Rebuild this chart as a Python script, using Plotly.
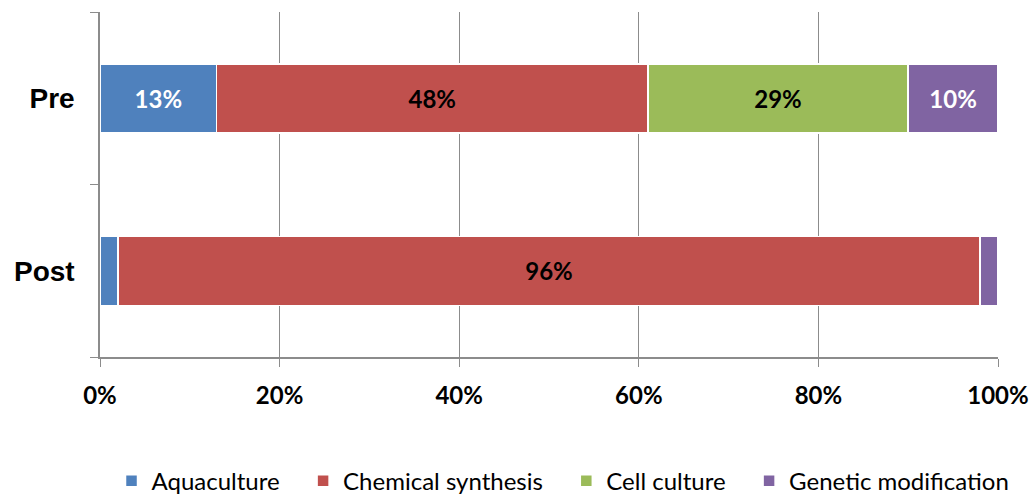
import plotly.graph_objects as go

categories = ["Pre", "Post"]
series_names = ["Aquaculture", "Chemical synthesis", "Cell culture", "Genetic modification"]
values = {
    "Aquaculture": [13, 2],
    "Chemical synthesis": [48, 96],
    "Cell culture": [29, 0],
    "Genetic modification": [10, 2],
}
labels = {
    "Aquaculture": ["13%", ""],
    "Chemical synthesis": ["48%", "96%"],
    "Cell culture": ["29%", ""],
    "Genetic modification": ["10%", ""],
}
colors = {
    "Aquaculture": "#4F81BD",
    "Chemical synthesis": "#C0504D",
    "Cell culture": "#9BBB59",
    "Genetic modification": "#8064A2",
}
label_colors = {
    "Aquaculture": "white",
    "Chemical synthesis": "black",
    "Cell culture": "black",
    "Genetic modification": "white",
}
tick_vals = [0, 20, 40, 60, 80, 100]
tick_text = ["0%", "20%", "40%", "60%", "80%", "100%"]

# non-breaking padding widens the gap between legend entries
PAD = "\u00a0" * 3

fig = go.Figure()
for i, name in enumerate(series_names):
    shown = name + (PAD if i < len(series_names) - 1 else "")
    fig.add_trace(go.Bar(
        y=categories,
        x=values[name],
        name=shown,
        orientation="h",
        marker=dict(color=colors[name], line=dict(color="white", width=1.5)),
        text=labels[name],
        textposition="inside",
        insidetextanchor="middle",
        textangle=0,
        textfont=dict(family="Lato", size=24, color=label_colors[name], weight="bold"),
        hoverinfo="skip",
    ))

fig.update_layout(
    barmode="stack",
    bargap=0.6,
    width=1034,
    height=496,
    margin=dict(l=100, r=36, t=12, b=139),
    paper_bgcolor="white",
    plot_bgcolor="white",
    uniformtext=dict(mode=False),
    legend=dict(
        orientation="h",
        x=0.5445,
        xanchor="center",
        xref="container",
        yref="container",
        y=0.03,
        yanchor="middle",
        font=dict(family="Lato", size=24, color="black"),
        traceorder="normal",
        itemwidth=30,
    ),
    xaxis=dict(
        range=[0, 100],
        tickvals=tick_vals,
        ticktext=tick_text,
        showgrid=True,
        gridcolor="#8C8C8C",
        gridwidth=1,
        showline=True,
        linecolor="#8C8C8C",
        linewidth=1.5,
        ticks="outside",
        ticklen=8,
        tickcolor="#8C8C8C",
        tickfont=dict(family="Lato", size=24, color="black", weight="bold"),
        ticklabelstandoff=8,
        zeroline=False,
        automargin=False,
        fixedrange=True,
    ),
    yaxis=dict(
        categoryorder="array",
        categoryarray=["Post", "Pre"],
        range=[-0.5, 1.5],
        showline=True,
        linecolor="#8C8C8C",
        linewidth=1.5,
        ticks="outside",
        tickson="boundaries",
        ticklen=8,
        tickcolor="#8C8C8C",
        showgrid=False,
        tickfont=dict(family="Arial", size=28, color="black", weight="bold"),
        ticklabelstandoff=18,
        automargin=False,
        fixedrange=True,
    ),
)

fig.write_html("out.html")
